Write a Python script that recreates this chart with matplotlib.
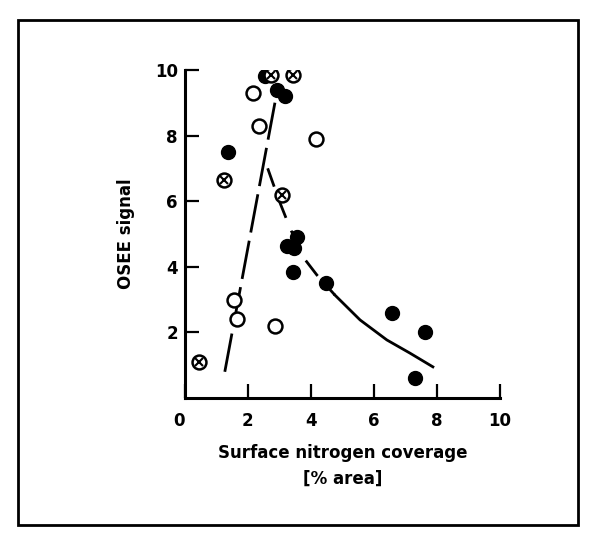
import matplotlib.pyplot as plt
from matplotlib.patches import Rectangle

# filled circles
filled_x = [1.37, 2.54, 2.92, 3.17, 3.24, 3.56, 3.46, 3.43, 4.48, 6.57, 7.62, 7.30]
filled_y = [7.50, 9.80, 9.40, 9.20, 4.63, 4.90, 4.57, 3.84, 3.50, 2.60, 2.00, 0.60]
# open circles
open_x = [1.65, 1.56, 2.16, 2.35, 2.86, 4.16]
open_y = [2.40, 3.00, 9.30, 8.30, 2.20, 7.90]
# crossed circles
cross_x = [0.44, 1.24, 2.73, 3.43, 3.08]
cross_y = [1.10, 6.65, 9.85, 9.85, 6.20]

# rising trend line
rise_x = [1.27, 2.86]
rise_y = [0.80, 9.00]
# falling trend curve
fall_x = [2.63, 3.00, 3.33, 3.75, 4.19, 4.76, 5.56, 6.41, 7.14, 7.87]
fall_y = [7.00, 6.00, 5.20, 4.30, 3.75, 3.14, 2.38, 1.77, 1.37, 0.95]

xticks = [0, 2, 4, 6, 8, 10]
yticks = [2, 4, 6, 8, 10]

fig = plt.figure(figsize=(5.96, 5.46), dpi=100)
ax = fig.add_axes([0.310, 0.271, 0.529, 0.601])

ax.plot(rise_x, rise_y, color='black', lw=2, linestyle=(0, (14, 3)))
ax.plot(fall_x[:6], fall_y[:6], color='black', lw=2, linestyle=(0, (7, 5)))
ax.plot(fall_x[5:], fall_y[5:], color='black', lw=2)

ax.plot(filled_x, filled_y, 'o', color='black', ms=10, ls='none')
ax.plot(open_x, open_y, 'o', mfc='white', mec='black', mew=1.8, ms=10, ls='none')
ax.plot(cross_x, cross_y, 'o', mfc='white', mec='black', mew=1.8, ms=10, ls='none')
ax.plot(cross_x, cross_y, 'x', color='black', mew=1.5, ms=6, ls='none')

ax.set_xlim(0, 10)
ax.set_ylim(0, 10)
ax.spines['top'].set_visible(False)
ax.spines['right'].set_visible(False)
ax.spines['left'].set_linewidth(2.2)
ax.spines['bottom'].set_linewidth(2.2)

ax.set_xticks(xticks)
ax.set_yticks(yticks)
ax.set_xticklabels([str(t) for t in xticks], fontsize=12, fontweight='bold')
ax.set_yticklabels([str(t) for t in yticks], fontsize=12, fontweight='bold')
ax.get_xticklabels()[0].set_horizontalalignment('right')
ax.tick_params(axis='both', direction='in', length=10, width=1.6)
ax.tick_params(axis='x', pad=10)
ax.tick_params(axis='y', pad=5)

ax.set_ylabel('OSEE signal', fontsize=12, fontweight='bold', labelpad=14)
ax.set_xlabel('Surface nitrogen coverage\n[% area]', fontsize=12,
              fontweight='bold', linespacing=1.6, labelpad=10)

fig.patches.append(Rectangle((18 / 596, 1 - 525 / 546), 560 / 596, 505 / 546,
                             transform=fig.transFigure, fill=False,
                             edgecolor='black', lw=2))

fig.savefig('out.png', dpi=100)
